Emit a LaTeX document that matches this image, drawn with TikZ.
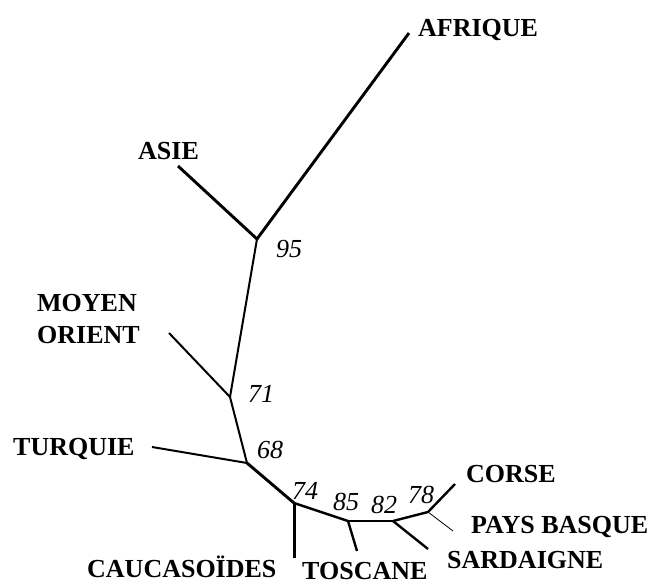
\documentclass[tikz,border=0pt]{standalone}
\usepackage{fontspec}
\setmainfont{Liberation Serif}
\begin{document}
\begin{tikzpicture}[x=1pt,y=-1pt,
  taxon/.style={font=\fontsize{26}{28}\selectfont\bfseries, inner sep=0pt, anchor=base west},
  boot/.style={font=\fontsize{26}{28}\selectfont\itshape, inner sep=0pt, anchor=base west},
  br/.style={line width=2.4pt, line join=round},
  brthick/.style={line width=2.9pt, line join=round},
  brthin/.style={line width=2pt},
  brhair/.style={line width=0.8pt}]
\useasboundingbox (0,0) rectangle (653,585);
% internal nodes and tips
\coordinate (n95) at (257,239);
\coordinate (n71) at (230,397);
\coordinate (n68) at (247,463);
\coordinate (n74) at (294,503);
\coordinate (n85) at (348,521);
\coordinate (n82) at (393,521);
\coordinate (n78) at (428,512);
\coordinate (tafr) at (409,33);
\coordinate (tasie) at (178,166);
\coordinate (tmo) at (169,333);
\coordinate (ttur) at (152,447);
\coordinate (tcau) at (294,558);
\coordinate (ttos) at (357,551);
\coordinate (tsar) at (428,549);
\coordinate (tcor) at (455,484);
\coordinate (tpb) at (453,531);
% branches
\draw[brthick] (n95) -- (tafr);
\draw[brthick] (n95) -- (tasie);
\draw[brthin] (n95) -- (n71);
\draw[brthin] (n71) -- (tmo);
\draw[brthin] (n71) -- (n68);
\draw[brthin] (n68) -- (ttur);
\draw[brthick] (n68) -- (n74);
\draw[line width=3pt] (n74) -- (tcau);
\draw[br] (n74) -- (n85);
\draw[br] (n85) -- (ttos);
\draw[br] (n85) -- (n82);
\draw[br] (n82) -- (tsar);
\draw[br] (n82) -- (n78);
\draw[br] (n78) -- (tcor);
\draw[brhair] (n78) -- (tpb);
% taxon labels
\node[taxon] (lafr) at (418,37) {AFRIQUE};
\node[taxon] (lasie) at (138,160) {ASIE};
\node[taxon] (lmo1) at (37,312) {MOYEN};
\node[taxon] (lmo2) at (37,343) {ORIENT};
\node[taxon] (ltur) at (13,455) {TURQUIE};
\node[taxon] (lcau) at (87,577) {CAUCASOÏDES};
\node[taxon] (ltos) at (302,579) {TOSCANE};
\node[taxon] (lsar) at (447,568) {SARDAIGNE};
\node[taxon] (lcor) at (466,482) {CORSE};
\node[taxon] (lpb) at (471,533) {PAYS BASQUE};
% bootstrap values
\node[boot] (b95) at (276,258) {95};
\node[boot] (b71) at (248,402) {71};
\node[boot] (b68) at (257,458) {68};
\node[boot] (b74) at (292,499) {74};
\node[boot] (b85) at (333,510) {85};
\node[boot] (b82) at (371,513) {82};
\node[boot] (b78) at (408,503) {78};
\end{tikzpicture}
\end{document}
